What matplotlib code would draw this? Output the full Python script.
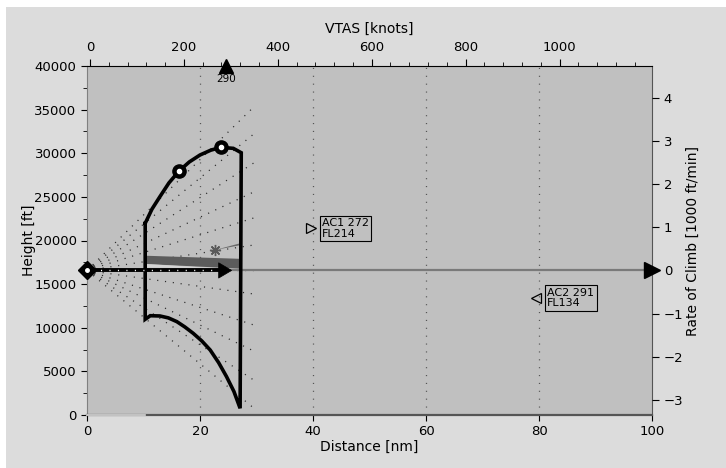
import matplotlib
matplotlib.use("Agg")
import matplotlib.pyplot as plt
from matplotlib.patches import Rectangle, Polygon
import numpy as np

# --- data -------------------------------------------------------------
altitude_ft = 16570          # own-ship altitude
own_vtas = 290               # own-ship true airspeed [knots]

# performance envelope (distance [nm], height [ft])
env_upper_nm = [10.3, 11.5, 12.9, 14.5, 16.3, 18.1, 20.0, 21.9, 23.7, 25.9, 27.3]
env_upper_ft = [21970, 23600, 25020, 26600, 27970, 29000, 29800, 30350, 30680, 30560, 30060]
env_lower_nm = [27.1, 26.0, 24.7, 23.3, 21.8, 20.3, 18.8, 17.3, 15.9, 14.4, 12.9, 11.2, 10.3]
env_lower_ft = [770, 2700, 4390, 6000, 7450, 8500, 9360, 10100, 10700, 11130, 11350, 11380, 10970]

# speed-schedule points on the climb curve
sched_nm = [16.3, 23.7]
sched_ft = [27970, 30680]

# fan of climb/descent projections: end heights at the horizon distance
fan_end_nm = 29.5
fan_end_ft = [35300, 32200, 28880, 25560, 22580, 19480, 16570, 13870, 10320, 7340, 4010, 800]

# predicted trajectory band
band_nm = [10.57, 27.08, 27.08, 10.57]
band_ft = [18250, 17900, 16780, 17300]
sliver_nm = [10.57, 23.5, 10.57]
sliver_ft = [17300, 16800, 16900]

# target indicator
star_nm, star_ft = 22.65, 18910
star_tail_nm, star_tail_ft = 27.1, 19560

# own-ship velocity arrow
arrow_tip_nm = 25.6
arrow_base_nm = 23.3

# traffic
traffic_names = ["AC1", "AC2"]
traffic_speed = [272, 291]
traffic_fl = [214, 134]
traffic_nm = [39.6, 79.5]
traffic_marker = [">", "<"]

dist_ticks = [0, 20, 40, 60, 80, 100]
grid_nm = [20, 40, 60, 80]
vtas_ticks = [0, 200, 400, 600, 800, 1000]
roc_ticks = [-3, -2, -1, 0, 1, 2, 3, 4]

# --- figure -----------------------------------------------------------
W, H = 726, 468
fig = plt.figure(figsize=(W / 100, H / 100), dpi=100, facecolor="white")
fig.patches.append(Rectangle((6 / W, 0), 1, (H - 7) / H, transform=fig.transFigure,
                             facecolor="#dcdcdc", edgecolor="none", zorder=-10))

ax = fig.add_axes([87 / W, 1 - 415 / H, (652 - 87) / W, (415 - 66) / H])
ax.set_facecolor("#c0c0c0")
ax.set_xlim(0, 100)
ax.set_ylim(0, 40000)

FS = 9.5
dots = (0, (0.9, 5.4))

# vertical dotted grid
for g in grid_nm:
    ax.plot([g, g], [0, 40000], color="#555555", lw=0.9, linestyle=dots, zorder=1)

# dotted projection fan
for h in fan_end_ft:
    ax.plot([0, fan_end_nm], [altitude_ft, h], color="#2a2a2a", lw=0.9,
            linestyle=dots, zorder=2)

# current altitude reference line
ax.plot([0, 100], [altitude_ft, altitude_ft], color="#7a7a7a", lw=1.6, zorder=2)
ax.plot([100], [altitude_ft], marker=">", color="black", ms=11, clip_on=False, zorder=10)

# trajectory band
ax.add_patch(Polygon(list(zip(band_nm, band_ft)), closed=True, facecolor="#5c5c5c",
                     edgecolor="none", zorder=3))
ax.add_patch(Polygon(list(zip(sliver_nm, sliver_ft)), closed=True, facecolor="#d4d4d4",
                     edgecolor="none", zorder=3))

# target indicator
ax.add_patch(Polygon([(star_nm, star_ft), (star_tail_nm, star_tail_ft + 120),
                      (star_tail_nm, star_tail_ft - 100)], closed=True,
                     facecolor="#6a6a6a", edgecolor="none", zorder=3))
ax.plot([star_nm], [star_ft], marker=(8, 2, 0), color="#5a5a5a", ms=8, mew=1.0, zorder=4)

# performance envelope
env_nm = env_upper_nm + env_lower_nm + [env_upper_nm[0]]
env_ft = env_upper_ft + env_lower_ft + [env_upper_ft[0]]
ax.plot(env_nm, env_ft, color="black", lw=2.6, solid_joinstyle="miter", zorder=5)
ax.plot(sched_nm, sched_ft, linestyle="none", marker="o", ms=9.5, color="black", zorder=6)
ax.plot(sched_nm, sched_ft, linestyle="none", marker="o", ms=3, color="white", zorder=6)

# own-ship velocity arrow
ax.plot([0, arrow_base_nm + 0.3], [altitude_ft, altitude_ft], color="black", lw=2.8, zorder=6)
ax.plot([0.8, arrow_base_nm], [altitude_ft, altitude_ft], color="white", lw=1.0,
        linestyle=(0, (0.8, 5.3)), zorder=7)
ax.add_patch(Polygon([(arrow_base_nm, altitude_ft + 880), (arrow_tip_nm, altitude_ft),
                      (arrow_base_nm, altitude_ft - 880)], closed=True,
                     facecolor="black", edgecolor="black", lw=0.5, zorder=7))
ax.plot([0], [altitude_ft], marker="D", ms=9, color="black", clip_on=False, zorder=8)
ax.plot([0], [altitude_ft], marker="o", ms=2.5, color="white", clip_on=False, zorder=8)

# ground segment
ax.plot([0, 10.3], [0, 0], color="#d8d8d8", lw=1.2, clip_on=False, zorder=9)

# traffic
for name, spd, fl, x, m in zip(traffic_names, traffic_speed, traffic_fl, traffic_nm, traffic_marker):
    y = fl * 100
    ax.plot([x], [y], marker=m, ms=7, mfc="none", mec="black", mew=0.9, zorder=8)
    ax.annotate(f"{name} {spd}\nFL{fl}", xy=(x, y), xytext=(8, 0), textcoords="offset points",
                ha="left", va="center", fontsize=8, linespacing=1.1,
                bbox=dict(boxstyle="square,pad=0.2", fc="#c0c0c0", ec="black", lw=0.8),
                zorder=9)

# bottom / left axes
ax.set_xticks(dist_ticks)
ax.set_yticks(np.arange(0, 40001, 5000))
ax.set_yticks(np.arange(0, 40001, 2500), minor=True)
ax.tick_params(labelsize=FS, direction="out", length=4)
ax.tick_params(axis="y", which="minor", length=3)
ax.set_xlabel("Distance [nm]", fontsize=FS + 0.5, labelpad=1)
ax.set_ylabel("Height [ft]", fontsize=FS + 0.5, labelpad=-1)
ax.spines["left"].set_color("#808080")
ax.spines["bottom"].set_color("#555555")
ax.spines["bottom"].set_linewidth(1.6)
ax.spines["right"].set_color("#555555")
ax.spines["top"].set_color("black")

# top axis: airspeed
axt = ax.twiny()
axt.set_xlim(-6.4, 1197)
axt.set_xticks(vtas_ticks)
axt.set_xticks(np.arange(0, 1197, 40), minor=True)
axt.tick_params(labelsize=FS, direction="out", length=5)
axt.tick_params(axis="x", which="minor", length=3)
axt.set_xlabel("VTAS [knots]", fontsize=FS + 0.5, labelpad=6)
axt.plot([own_vtas], [1.0], marker="^", color="black", ms=9.5,
         transform=axt.get_xaxis_transform(), clip_on=False, zorder=10)
axt.annotate(str(own_vtas), xy=(own_vtas, 1.0), xycoords=axt.get_xaxis_transform(),
             xytext=(0, -6), textcoords="offset points",
             ha="center", va="top", fontsize=7.5, zorder=10)
for s in axt.spines.values():
    s.set_visible(False)

# right axis: rate of climb
axr = ax.twinx()
span = 8.081
bottom = -altitude_ft / 40000 * span
axr.set_ylim(bottom, bottom + span)
axr.set_yticks(roc_ticks)
axr.tick_params(labelsize=FS, direction="out", length=5)
axr.set_ylabel("Rate of Climb [1000 ft/min]", fontsize=FS + 0.5, labelpad=2)
for s in axr.spines.values():
    s.set_visible(False)

fig.savefig("out.png", dpi=100, facecolor=fig.get_facecolor())
